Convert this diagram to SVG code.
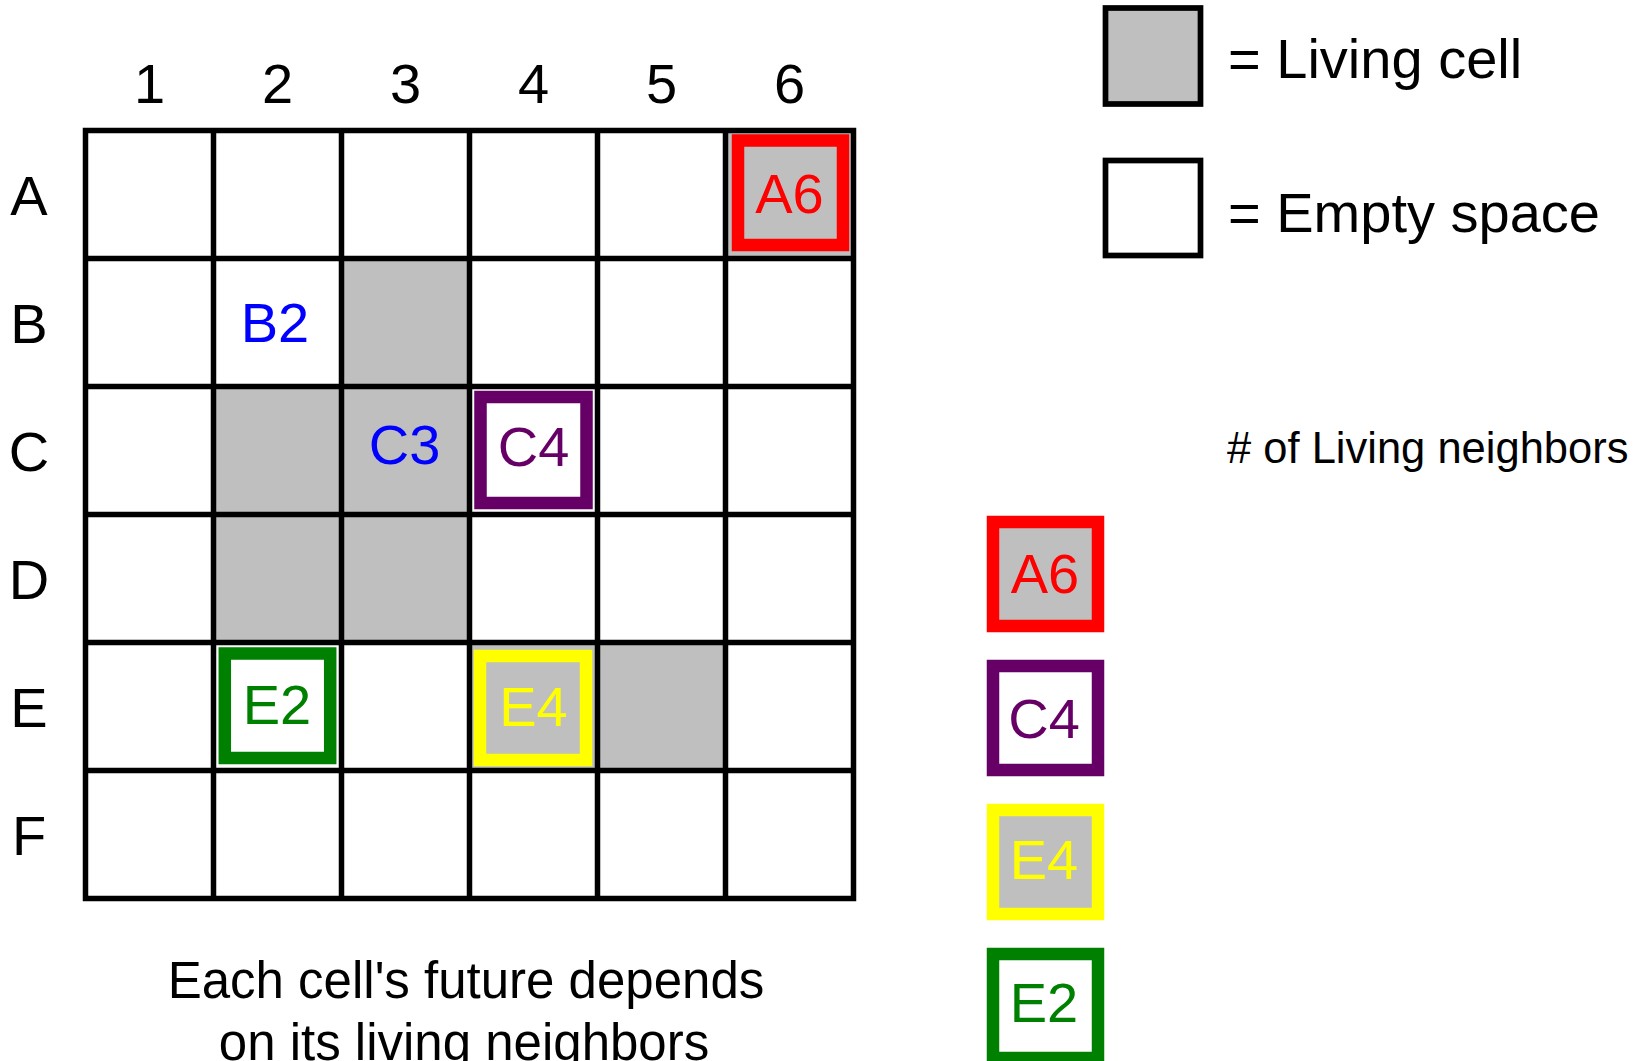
<svg xmlns="http://www.w3.org/2000/svg" width="1640" height="1061" viewBox="0 0 1640 1061">
  <style>
    text { font-family: "Liberation Sans", Arial, sans-serif; }
    .lbl { font-size: 56px; fill: #000; text-anchor: middle; }
    .cell { font-size: 56px; text-anchor: middle; }
    .live { fill: #BFBFBF; stroke: none; }
    .grid { fill: none; stroke: #000; stroke-width: 5.5; stroke-linecap: square; }
    .hl { stroke-width: 12.5; }
    .key { stroke: #000; stroke-width: 5.7; }
    .cap { font-size: 51px; fill: #000; text-anchor: middle; }
  </style>
  <rect x="0" y="0" width="1640" height="1061" fill="#fff"/>

  <g id="board">
    <g id="living-cells">
      <rect class="live" x="341.5" y="258.5" width="128" height="128"/>
      <rect class="live" x="213.5" y="386.5" width="128" height="128"/>
      <rect class="live" x="341.5" y="386.5" width="128" height="128"/>
      <rect class="live" x="213.5" y="514.5" width="128" height="128"/>
      <rect class="live" x="341.5" y="514.5" width="128" height="128"/>
      <rect class="live" x="469.5" y="642.5" width="128" height="128"/>
      <rect class="live" x="597.5" y="642.5" width="128" height="128"/>
      <rect class="live" x="725.5" y="130.5" width="128" height="128"/>
    </g>
    <path id="grid-lines" class="grid" d="M85.5 130.5V898.5M213.5 130.5V898.5M341.5 130.5V898.5M469.5 130.5V898.5M597.5 130.5V898.5M725.5 130.5V898.5M853.5 130.5V898.5M85.5 130.5H853.5M85.5 258.5H853.5M85.5 386.5H853.5M85.5 514.5H853.5M85.5 642.5H853.5M85.5 770.5H853.5M85.5 898.5H853.5"/>
    <g id="column-labels">
      <text class="lbl" x="149.5" y="103">1</text>
      <text class="lbl" x="277.5" y="103">2</text>
      <text class="lbl" x="405.5" y="103">3</text>
      <text class="lbl" x="533.5" y="103">4</text>
      <text class="lbl" x="661.5" y="103">5</text>
      <text class="lbl" x="789.5" y="103">6</text>
    </g>
    <g id="row-labels">
      <text class="lbl" x="29" y="215">A</text>
      <text class="lbl" x="29" y="342.5">B</text>
      <text class="lbl" x="29" y="470.5">C</text>
      <text class="lbl" x="29" y="598.5">D</text>
      <text class="lbl" x="29" y="726.5">E</text>
      <text class="lbl" x="29" y="854.5">F</text>
    </g>
  </g>

  <g id="cell-A6">
    <rect class="hl" x="738" y="140.5" width="105" height="104.5" fill="#BFBFBF" stroke="#FF0000"/>
    <text class="cell" x="789.5" y="213" fill="#FF0000">A6</text>
  </g>
  <g id="cell-B2">
    <text class="cell" x="275" y="342" fill="#0000FF">B2</text>
  </g>
  <g id="cell-C3">
    <text class="cell" x="404.5" y="464" fill="#0000FF">C3</text>
  </g>
  <g id="cell-C4">
    <rect class="hl" x="480.5" y="397" width="106" height="106" fill="#FFFFFF" stroke="#660066"/>
    <text class="cell" x="533.5" y="466" fill="#660066">C4</text>
  </g>
  <g id="cell-E2">
    <rect class="hl" x="224.8" y="653.5" width="105.4" height="104.5" fill="#FFFFFF" stroke="#008000"/>
    <text class="cell" x="277" y="724" fill="#008000">E2</text>
  </g>
  <g id="cell-E4">
    <rect class="hl" x="480" y="656" width="106" height="104" fill="#BFBFBF" stroke="#FFFF00"/>
    <text class="cell" x="533.5" y="726" fill="#FFFF00">E4</text>
  </g>

  <g id="legend-living">
    <rect class="key" x="1105.5" y="8" width="95" height="96" fill="#BFBFBF"/>
    <text x="1228" y="78" font-size="56" fill="#000">= Living cell</text>
  </g>
  <g id="legend-empty">
    <rect class="key" x="1105.5" y="160.5" width="95" height="95" fill="#FFFFFF"/>
    <text x="1228" y="232" font-size="56" fill="#000">= Empty space</text>
  </g>

  <g id="neighbors-heading">
    <text x="1227" y="462.5" font-size="43.5" fill="#000"># of Living neighbors</text>
  </g>

  <g id="count-A6">
    <rect class="hl" x="993" y="522" width="105" height="104" fill="#BFBFBF" stroke="#FF0000"/>
    <text class="cell" x="1045" y="593" fill="#FF0000">A6</text>
  </g>
  <g id="count-C4">
    <rect class="hl" x="993" y="666" width="105" height="104" fill="#FFFFFF" stroke="#660066"/>
    <text class="cell" x="1044" y="738" fill="#660066">C4</text>
  </g>
  <g id="count-E4">
    <rect class="hl" x="993" y="810" width="105" height="104" fill="#BFBFBF" stroke="#FFFF00"/>
    <text class="cell" x="1044" y="879" fill="#FFFF00">E4</text>
  </g>
  <g id="count-E2">
    <rect class="hl" x="993" y="954" width="105" height="104" fill="#FFFFFF" stroke="#008000"/>
    <text class="cell" x="1044" y="1022" fill="#008000">E2</text>
  </g>

  <g id="caption">
    <text class="cap" x="466" y="998">Each cell's future depends</text>
    <text class="cap" x="464" y="1060">on its living neighbors</text>
  </g>

  <g id="connectors"/>
</svg>
